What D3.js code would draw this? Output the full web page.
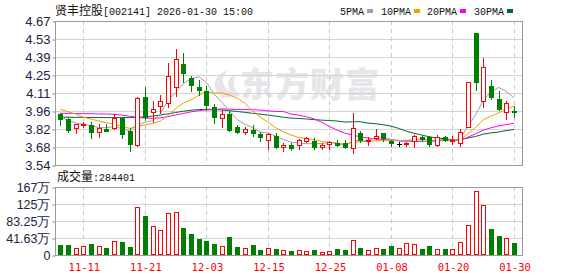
<!DOCTYPE html>
<html><head><meta charset="utf-8">
<script src="https://cdn.jsdelivr.net/npm/d3@7"></script>
<style>body{margin:0;background:#fff;}svg{display:block;}</style>
</head><body>
<svg id="c" width="578" height="276"></svg>
<script>
const dates = ["11-06","11-07","11-10","11-11","11-12","11-13","11-14","11-17","11-18","11-19","11-20","11-21","11-24","11-25","11-26","11-27","11-28",
"12-01","12-02","12-03","12-04","12-05","12-08","12-09","12-10","12-11","12-12","12-15","12-16","12-17","12-18","12-19","12-22","12-23","12-24","12-25","12-26","12-29","12-30","12-31",
"01-05","01-06","01-07","01-08","01-09","01-12","01-13","01-14","01-15","01-16","01-19","01-20","01-21","01-22","01-23","01-26","01-27","01-28","01-29","01-30"];
const openP  = [3.938,3.899,3.828,3.855,3.854,3.797,3.823,3.828,3.907,3.807,3.697,4.071,3.958,4.003,4.029,4.154,4.333,4.225,4.15,4.123,3.993,3.907,3.94,3.836,3.801,3.815,3.781,3.736,3.767,3.684,3.697,3.697,3.73,3.73,3.684,3.702,3.715,3.71,3.671,3.789,3.73,3.75,3.789,3.728,3.704,3.71,3.73,3.76,3.757,3.697,3.757,3.735,3.711,3.84,4.573,4.045,4.16,4.056,3.958,3.966];
const highP  = [3.95,3.914,3.859,3.88,3.88,3.859,3.86,3.94,3.92,3.828,4.07,4.15,4.045,4.087,4.338,4.45,4.417,4.24,4.207,4.16,4.019,3.97,3.97,3.85,3.84,3.854,3.80,3.793,3.79,3.715,3.71,3.742,3.76,3.75,3.71,3.73,3.735,3.735,3.95,3.81,3.76,3.82,3.79,3.735,3.723,3.723,3.775,3.77,3.77,3.775,3.77,3.77,3.82,4.19,4.575,4.377,4.207,4.123,4.042,4.003];
const lowP   = [3.854,3.802,3.794,3.84,3.754,3.762,3.81,3.82,3.754,3.652,3.69,3.893,3.88,3.946,3.993,4.084,4.194,4.123,4.09,3.97,3.872,3.841,3.81,3.79,3.783,3.77,3.73,3.663,3.67,3.652,3.66,3.663,3.72,3.668,3.668,3.663,3.69,3.677,3.637,3.72,3.697,3.742,3.73,3.69,3.689,3.69,3.684,3.73,3.69,3.689,3.73,3.704,3.689,3.838,4.128,3.993,4.058,3.971,3.9,3.919];
const closeP = [3.903,3.815,3.859,3.862,3.801,3.833,3.81,3.907,3.781,3.702,4.068,3.914,3.977,4.045,4.238,4.369,4.26,4.17,4.128,4.011,3.914,3.94,3.815,3.801,3.823,3.793,3.757,3.783,3.68,3.697,3.675,3.736,3.749,3.684,3.697,3.718,3.697,3.684,3.828,3.736,3.733,3.77,3.749,3.71,3.704,3.715,3.767,3.742,3.704,3.757,3.736,3.738,3.801,4.189,4.194,4.307,4.076,3.977,4.024,3.953];
const ma5  = [3.92,3.89,3.87,3.86,3.848,3.834,3.833,3.843,3.826,3.807,3.854,3.874,3.888,3.941,4.048,4.109,4.178,4.216,4.233,4.188,4.097,4.033,3.962,3.896,3.859,3.834,3.798,3.791,3.767,3.742,3.718,3.714,3.707,3.708,3.708,3.717,3.709,3.696,3.725,3.733,3.736,3.750,3.763,3.740,3.733,3.730,3.729,3.728,3.726,3.737,3.741,3.735,3.747,3.844,3.932,4.046,4.113,4.149,4.116,4.067];
const ma10 = [3.977,3.958,3.94,3.915,3.90,3.885,3.872,3.86,3.845,3.827,3.844,3.854,3.866,3.884,3.928,3.982,4.026,4.052,4.087,4.118,4.103,4.106,4.089,4.065,4.024,3.966,3.916,3.877,3.832,3.801,3.776,3.756,3.749,3.738,3.725,3.718,3.712,3.702,3.717,3.721,3.727,3.730,3.730,3.733,3.733,3.733,3.740,3.746,3.733,3.735,3.736,3.732,3.738,3.785,3.835,3.894,3.924,3.948,3.980,4.000];
const ma20 = [3.946,3.945,3.944,3.943,3.942,3.941,3.940,3.938,3.932,3.922,3.914,3.908,3.906,3.910,3.920,3.932,3.945,3.957,3.966,3.973,3.974,3.980,3.978,3.975,3.976,3.974,3.971,3.965,3.960,3.960,3.940,3.931,3.919,3.902,3.875,3.842,3.814,3.790,3.775,3.761,3.752,3.743,3.740,3.736,3.729,3.726,3.726,3.724,3.725,3.728,3.732,3.731,3.734,3.759,3.784,3.814,3.832,3.847,3.857,3.868];
const ma30 = [3.915,3.915,3.914,3.914,3.913,3.913,3.912,3.912,3.912,3.912,3.914,3.918,3.924,3.932,3.942,3.952,3.962,3.970,3.975,3.977,3.976,3.972,3.966,3.960,3.953,3.946,3.939,3.932,3.924,3.915,3.908,3.905,3.901,3.896,3.892,3.889,3.885,3.877,3.879,3.880,3.869,3.864,3.856,3.845,3.827,3.806,3.789,3.775,3.761,3.752,3.746,3.739,3.739,3.752,3.764,3.782,3.792,3.799,3.810,3.819];
// volume in 万手
const volumes = [24.5,24.5,16.3,22,27,22,18,34.3,31.8,20.4,116.7,95.5,71,60.4,102,104.5,67,51.4,40,34.3,27,22,44.9,20.4,17,24.5,12.2,17,14.7,11.4,9.8,12.2,9.8,12.2,6.5,9.8,14.7,12.2,36.7,17.9,12.2,17.1,14.7,22,17.9,28.6,27,14.7,22,14.7,14.7,14.7,31,72.6,156,121.6,63.7,46.5,40.8,28.44];
const volUp = [0,0,1,1,0,1,0,1,0,0,1,0,1,1,1,1,0,0,0,0,0,1,0,0,1,0,0,1,0,1,0,1,1,0,1,1,0,0,1,0,1,1,0,0,1,1,1,0,0,1,0,1,1,1,1,1,0,0,1,0];
const priceTicks = [3.54,3.68125,3.8225,3.96375,4.105,4.24625,4.3875,4.52875,4.67];
const priceTickLabels = ["3.54","3.68","3.82","3.96","4.11","4.25","4.39","4.53","4.67"];
const volTicks = [0,41.625,83.25,124.875,166.5];
const volTickLabels = ["0","41.63万","83.25万","125万","167万"];
const dateTicks = ["11-11","11-21","12-03","12-15","12-25","01-08","01-20","01-30"];
const maNames = ["5PMA","10PMA","20PMA","30PMA"];
const maColors = ["#a0a0a0","#f0a000","#ff00ff","#006a2a"];
const titleName = "贤丰控股";
const titleRest = "[002141] 2026-01-30 15:00";
const volTitle = "成交量";
const volValue = ":284401";

const svg = d3.select("#c");
const L = 55, R = 522, T = 21, B = 165, VT = 187, VB = 255;
const RED = "#ff0000", GREEN = "#008000";
const x = d3.scalePoint().domain(dates).range([60.3, 514]);
const y = d3.scaleLinear().domain([3.54, 4.67]).range([B, T]);
const yv = d3.scaleLinear().domain([0, 166.5]).range([VB, VT]);
const px = d => Math.round(x(d));

// watermark
const wm = svg.append("g").attr("fill", "#e6e6ea");
wm.append("text").attr("x", 240).attr("y", 97).attr("font-family", "Noto Sans CJK SC")
  .attr("font-weight", 900).attr("font-size", 34).attr("letter-spacing", 1).text("东方财富");
wm.append("path").attr("d", "M222,98 C210,88 214,74 228,70 C220,78 222,86 230,92 C226,84 228,76 236,74 C232,82 234,90 240,96 Z");

// grids
const g = svg.append("g");
g.selectAll(".hg").data(priceTicks.slice(1, -1)).join("line")
  .attr("x1", L).attr("x2", R).attr("y1", d => Math.round(y(d)) + 0.5).attr("y2", d => Math.round(y(d)) + 0.5)
  .attr("stroke", "#d4d4d4");
g.selectAll(".hv").data(volTicks.slice(1, -1)).join("line")
  .attr("x1", L).attr("x2", R).attr("y1", d => Math.round(yv(d)) + 0.5).attr("y2", d => Math.round(yv(d)) + 0.5)
  .attr("stroke", "#d4d4d4");
[[T, B], [VT, VB]].forEach(([a, b]) => {
  g.append("g").selectAll("line").data(dateTicks).join("line")
    .attr("x1", d => px(d) + 0.5).attr("x2", d => px(d) + 0.5).attr("y1", a).attr("y2", b)
    .attr("stroke", "#c8c8c8").attr("stroke-dasharray", "4,4");
});

// y axes
const axP = d3.axisLeft(y).tickValues(priceTicks).tickFormat((d, i) => priceTickLabels[i]).tickSize(3).tickPadding(2);
const ga = svg.append("g").attr("transform", `translate(${L + 0.5},0.5)`).call(axP);
const axV = d3.axisLeft(yv).tickValues(volTicks).tickFormat((d, i) => volTickLabels[i]).tickSize(3).tickPadding(2);
const gv = svg.append("g").attr("transform", `translate(${L + 0.5},0.5)`).call(axV);
[ga, gv].forEach(a => {
  a.select(".domain").remove();
  a.selectAll("line").attr("stroke", "#888");
  a.selectAll("text").attr("font-family", "Liberation Sans, Arial, sans-serif").attr("font-size", 13).attr("fill", "#222244");
});
gv.selectAll("text").attr("font-size", 12.5);

// x axis labels
const ax = d3.axisBottom(x).tickValues(dateTicks).tickSize(0).tickPadding(8);
const gx = svg.append("g").attr("transform", `translate(0.5,${VB + 1})`).call(ax);
gx.select(".domain").remove();
gx.selectAll("text").attr("font-family", "DejaVu Sans Mono, monospace").attr("font-size", 10.5).attr("fill", RED);

// MA lines
const mas = [ma5, ma10, ma20, ma30];
const line = d3.line().x((d, i) => x(dates[i])).y(d => y(d));
mas.slice().reverse().forEach((m, k) => {
  const idx = 3 - k;
  svg.append("path").datum(m).attr("d", line).attr("fill", "none").attr("stroke", maColors[idx]).attr("stroke-width", 1);
});

// candles
const candles = svg.append("g");
dates.forEach((d, i) => {
  const o = openP[i], c = closeP[i], h = highP[i], l = lowP[i];
  const cx = px(d);
  const col = c > o ? RED : c < o ? GREEN : "#000";
  candles.append("line").attr("x1", cx + 0.5).attr("x2", cx + 0.5)
    .attr("y1", Math.round(y(h))).attr("y2", Math.round(y(l)) + 1).attr("stroke", col);
  const top = Math.round(y(Math.max(o, c))), bot = Math.round(y(Math.min(o, c)));
  if (c > o) {
    candles.append("rect").attr("x", cx - 1.5).attr("y", top + 0.5).attr("width", 4).attr("height", Math.max(1, bot - top))
      .attr("fill", "#fff").attr("stroke", RED);
  } else if (c < o) {
    candles.append("rect").attr("x", cx - 2).attr("y", top).attr("width", 5).attr("height", Math.max(1, bot - top + 1))
      .attr("fill", GREEN);
  } else {
    candles.append("line").attr("x1", cx - 2).attr("x2", cx + 3).attr("y1", top + 0.5).attr("y2", top + 0.5).attr("stroke", "#000");
  }
});

// volume bars
const vb = svg.append("g");
dates.forEach((d, i) => {
  const cx = px(d);
  const top = Math.round(yv(volumes[i]));
  if (volUp[i]) {
    vb.append("rect").attr("x", cx - 1.5).attr("y", top + 0.5).attr("width", 4).attr("height", VB - top - 1)
      .attr("fill", "#fff").attr("stroke", RED);
  } else {
    vb.append("rect").attr("x", cx - 2).attr("y", top).attr("width", 5).attr("height", VB - top).attr("fill", GREEN);
  }
});

// frames
svg.append("rect").attr("x", L + 0.5).attr("y", T + 0.5).attr("width", R - L).attr("height", B - T)
  .attr("fill", "none").attr("stroke", "#9a9a9a");
svg.append("rect").attr("x", L + 0.5).attr("y", VT + 0.5).attr("width", R - L).attr("height", VB - VT)
  .attr("fill", "none").attr("stroke", "#9a9a9a");

// title
const tt = svg.append("text").attr("x", 55).attr("y", 15).attr("fill", "#111");
tt.append("tspan").attr("font-family", "Noto Sans CJK SC").attr("font-size", 12).text(titleName);
tt.append("tspan").attr("font-family", "Liberation Mono, monospace").attr("font-size", 10).attr("xml:space", "preserve").text(titleRest);

// legend
const legX = [340, 381, 427, 474];
maNames.forEach((n, i) => {
  svg.append("text").attr("x", legX[i]).attr("y", 15).attr("font-family", "Liberation Mono, monospace")
    .attr("font-size", 10).attr("fill", "#111").text(n);
  const w = n.length * 6;
  svg.append("rect").attr("x", legX[i] + w + 3).attr("y", 9).attr("width", 6).attr("height", 4).attr("fill", maColors[i]);
});

// volume title
const vt = svg.append("text").attr("x", 57).attr("y", 181).attr("fill", "#111");
vt.append("tspan").attr("font-family", "Noto Sans CJK SC").attr("font-size", 12).text(volTitle);
vt.append("tspan").attr("font-family", "Liberation Mono, monospace").attr("font-size", 10).text(volValue);
</script>
</body></html>
